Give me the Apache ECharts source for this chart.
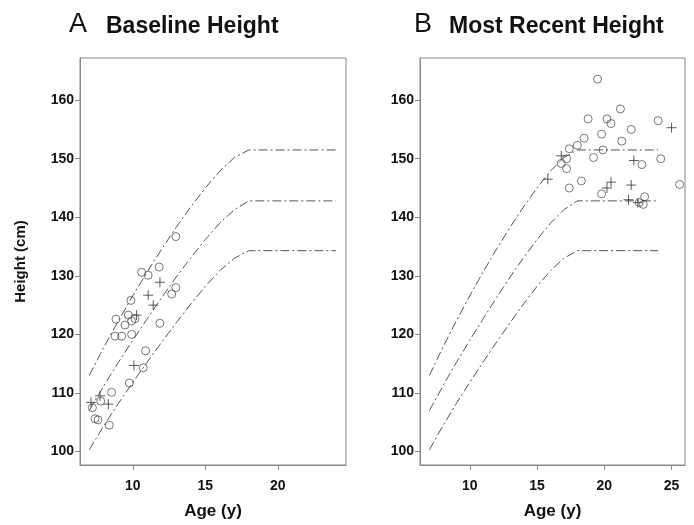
<!DOCTYPE html>
<html>
<head>
<meta charset="utf-8">
<script src="https://cdn.jsdelivr.net/npm/echarts@6/dist/echarts.min.js"></script>
<style>
  html, body { margin: 0; padding: 0; background: #fff; }
  #chart { width: 694px; height: 525px; }
</style>
</head>
<body>
<div id="chart"></div>
<script>
// reference growth curves (dash-dot)
var curveAges = [7, 8, 9, 10, 11, 12, 13, 14, 15, 16, 17, 18, 24];
var curveUpper = [113, 117.8, 122.3, 126.6, 130.7, 134.6, 138.3, 141.8, 145, 147.9, 150.2, 151.5, 151.5];
var curveMiddle = [107, 111.2, 115.2, 119, 122.7, 126.3, 129.8, 133.1, 136.2, 139, 141.3, 142.8, 142.8];
var curveLower = [100.3, 104.4, 108.2, 111.8, 115.3, 118.7, 122, 125.2, 128.2, 130.9, 133, 134.3, 134.3];

// A: baseline height  [age, height]
var baseCircles = [
  [12.97, 136.7], [11.82, 131.5], [10.61, 130.6], [11.06, 130.1], [12.97, 128.0],
  [12.68, 126.9], [9.87, 125.8], [8.84, 122.6], [9.69, 123.3], [10.15, 122.7],
  [9.46, 121.6], [9.92, 122.3], [11.87, 121.9], [8.77, 119.7], [9.23, 119.7],
  [9.92, 120.0], [10.88, 117.2], [10.72, 114.3], [9.76, 111.7], [8.54, 110.1],
  [7.21, 107.5], [7.79, 108.6], [7.4, 105.6], [7.6, 105.4], [8.38, 104.5]
];
var baseCrosses = [
  [11.87, 128.9], [11.06, 126.7], [11.41, 125.0], [10.26, 123.3], [10.08, 114.7],
  [7.12, 108.4], [7.74, 109.5], [8.31, 108.1]
];

// B: most recent height
var recentCircles = [
  [19.5, 163.6], [18.8, 156.8], [20.2, 156.8], [20.5, 156], [21.2, 158.5],
  [22, 155], [24, 156.5], [18.5, 153.5], [19.8, 154.2], [21.3, 153],
  [18, 152.3], [17.4, 151.7], [19.9, 151.5], [16.8, 149.2], [17.2, 150],
  [24.2, 150], [22.8, 149], [17.2, 148.3], [18.3, 146.2], [17.4, 145],
  [19.8, 144], [23, 143.5], [22.6, 142.5], [22.9, 142.2], [25.6, 145.6], [19.2, 150.2]
];
var recentCrosses = [
  [15.8, 146.5], [16.8, 150.5], [20.5, 146], [20.2, 145], [21.8, 143],
  [22, 145.5], [22.2, 149.7], [22.5, 142.5], [25, 155.3]
];

var yTicks = [100, 110, 120, 130, 140, 150, 160];
var xTicksA = [10, 15, 20];
var xTicksB = [10, 15, 20, 25];

var crossPath = 'path://M0,5L10,5M5,0L5,10';
var font = 'Liberation Sans, Arial, sans-serif';

function zip(xs, ys) {
  return xs.map(function (x, i) { return [x, ys[i]]; });
}

function curve(data, idx) {
  return {
    type: 'line', xAxisIndex: idx, yAxisIndex: idx, data: data,
    symbol: 'none', silent: true, z: 1,
    lineStyle: { color: '#555', width: 1, type: [9, 3, 2, 3] }
  };
}
function circles(data, idx) {
  return {
    type: 'scatter', xAxisIndex: idx, yAxisIndex: idx, data: data,
    symbol: 'circle', symbolSize: 8,
    itemStyle: { color: 'rgba(0,0,0,0)', borderColor: '#444', borderWidth: 0.9 }
  };
}
function crosses(data, idx) {
  return {
    type: 'scatter', xAxisIndex: idx, yAxisIndex: idx, data: data,
    symbol: crossPath, symbolSize: 10,
    itemStyle: { color: 'none', borderColor: '#333', borderWidth: 1 }
  };
}

function xAxis(idx, min, max, ticks) {
  return {
    gridIndex: idx, type: 'value', min: min, max: max,
    name: 'Age (y)', nameLocation: 'middle', nameGap: 38,
    nameTextStyle: { fontFamily: font, fontWeight: 'bold', fontSize: 17, color: '#111' },
    axisLine: { show: true, lineStyle: { color: '#888' } },
    axisTick: { show: true, length: 5, customValues: ticks, lineStyle: { color: '#888' } },
    axisLabel: { customValues: ticks, margin: 14, fontFamily: font, fontWeight: 'bold', fontSize: 14, color: '#111' },
    splitLine: { show: false }
  };
}
function yAxis(idx, showName) {
  return {
    gridIndex: idx, type: 'value', min: 97.7, max: 167.2,
    name: showName ? 'Height (cm)' : '', nameLocation: 'middle', nameGap: 52,
    nameTextStyle: { fontFamily: font, fontWeight: 'bold', fontSize: 15, color: '#111' },
    axisLine: { show: true, lineStyle: { color: '#888' } },
    axisTick: { show: true, length: 5, customValues: yTicks, lineStyle: { color: '#888' } },
    axisLabel: { customValues: yTicks, margin: 6, fontFamily: font, fontWeight: 'bold', fontSize: 14, color: '#111' },
    splitLine: { show: false }
  };
}

var chart = echarts.init(document.getElementById('chart'));
chart.setOption({
  backgroundColor: '#fff',
  animation: false,
  grid: [
    { left: 80, top: 58, width: 266, height: 407, show: true, borderColor: '#888', borderWidth: 1 },
    { left: 420, top: 58, width: 265, height: 407, show: true, borderColor: '#888', borderWidth: 1 }
  ],
  xAxis: [xAxis(0, 6.36, 24.7, xTicksA), xAxis(1, 6.3, 26, xTicksB)],
  yAxis: [yAxis(0, true), yAxis(1, false)],
  graphic: [
    { type: 'text', left: 69, top: 11, style: { text: 'A', font: '27px ' + font, fill: '#111' } },
    { type: 'text', left: 106, top: 15, style: { text: 'Baseline Height', font: 'bold 23px ' + font, fill: '#111' } },
    { type: 'text', left: 414, top: 11, style: { text: 'B', font: '27px ' + font, fill: '#111' } },
    { type: 'text', left: 449, top: 15, style: { text: 'Most Recent Height', font: 'bold 23px ' + font, fill: '#111' } }
  ],
  series: [
    curve(zip(curveAges, curveUpper), 0),
    curve(zip(curveAges, curveMiddle), 0),
    curve(zip(curveAges, curveLower), 0),
    circles(baseCircles, 0),
    crosses(baseCrosses, 0),
    curve(zip(curveAges, curveUpper), 1),
    curve(zip(curveAges, curveMiddle), 1),
    curve(zip(curveAges, curveLower), 1),
    circles(recentCircles, 1),
    crosses(recentCrosses, 1)
  ]
});
</script>
</body>
</html>
